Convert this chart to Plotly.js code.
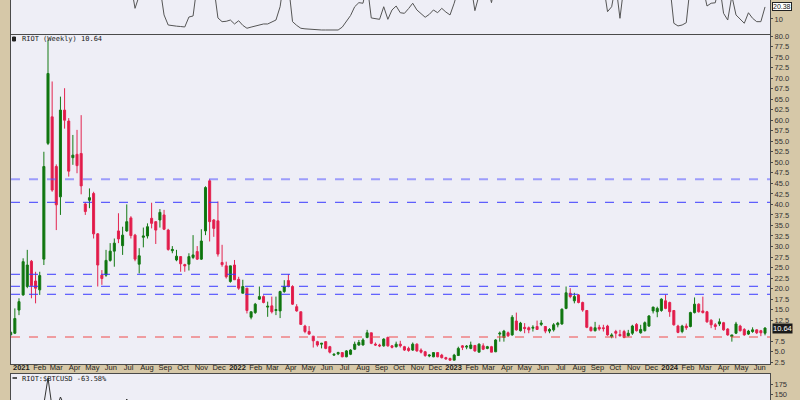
<!DOCTYPE html>
<html><head><meta charset="utf-8">
<script src="https://cdn.plot.ly/plotly-3.0.1.min.js"></script>
<style>html,body{margin:0;padding:0;background:#d6c8a8}#chart{width:800px;height:400px}</style>
</head><body><div id="chart"></div>
<script>
// ---- Weekly RIOT candles (week starting Monday), first week 2020-12-14 ----
const firstWeek = "2020-12-14";
const openP = [9.0,9.4,14.9,18.5,20.5,26.5,21.8,19.7,27.0,54.5,
 60.8,49.0,41.8,62.4,59.8,51.1,51.9,52.1,40.1,41.0,
 42.6,33.0,23.2,23.2,26.7,28.9,33.7,30.2,33.7,36.8,
 32.7,25.8,32.2,32.5,36.7,35.9,36.3,37.5,33.9,29.0,
 26.8,27.6,25.7,25.8,27.4,28.8,27.0,33.7,45.6,36.3,
 36.1,26.2,25.4,21.7,25.6,22.2,18.9,20.1,13.2,14.3,
 17.5,18.1,15.6,15.9,14.8,14.7,19.3,21.9,20.5,15.7,
 14.5,11.1,9.8,8.7,7.4,6.8,7.4,6.2,4.2,4.5,
 4.8,3.8,4.4,5.6,6.6,6.6,8.4,9.5,6.8,6.6,
 6.4,8.4,6.4,6.2,6.8,6.2,5.8,5.4,6.8,5.4,
 5.0,4.0,3.8,4.8,4.2,3.6,3.4,3.0,4.1,6.4,
 6.1,5.8,6.5,4.9,6.4,5.8,6.2,5.0,9.2,8.4,
 9.5,9.0,12.3,10.0,10.8,10.7,10.6,11.0,11.5,11.0,
 9.9,10.2,11.4,11.6,15.3,18.9,17.1,18.5,16.7,14.8,
 10.8,10.0,10.8,10.7,11.1,8.6,9.8,9.1,9.8,8.8,
 9.4,11.5,9.5,10.0,11.1,14.7,14.5,14.8,17.1,16.7,
 14.8,11.1,9.8,11.1,11.0,14.3,16.3,14.7,14.5,12.5,
 11.4,11.6,11.9,10.4,8.6,9.4,11.1,10.3,9.2,9.8,
 10.2,10.0,9.4];
const highP = [9.9,15.3,17.7,27.2,29.2,26.8,24.0,24.0,52.5,79.0,
 69.2,49.5,65.6,67.6,60.5,56.5,57.7,61.2,40.5,43.8,
 43.0,33.2,24.4,29.2,30.8,31.9,37.9,34.7,40.0,37.2,
 33.0,29.6,34.5,35.5,40.4,36.0,38.9,38.7,34.2,30.1,
 29.2,27.7,25.9,28.4,32.7,30.1,34.1,44.3,46.0,36.5,
 40.7,30.4,26.4,25.4,26.8,22.8,22.1,20.1,14.5,16.6,
 20.5,18.4,16.9,18.1,18.1,19.5,22.0,23.4,20.8,16.3,
 14.5,11.4,11.1,8.7,7.6,7.1,7.4,6.4,4.6,5.0,
 4.9,5.4,5.6,7.4,7.8,8.2,10.2,9.5,7.2,6.9,
 8.2,8.6,6.6,7.4,7.6,6.4,6.2,7.2,7.0,5.8,
 5.2,4.4,4.9,4.9,4.5,3.8,3.6,4.5,6.2,6.6,
 6.6,7.4,6.6,7.0,7.0,6.4,6.4,8.0,9.8,10.2,
 9.8,13.7,14.3,12.1,11.8,11.0,11.3,12.4,12.5,11.1,
 10.6,11.8,12.1,15.3,20.5,20.1,19.0,18.7,16.9,14.9,
 11.0,12.1,11.4,11.4,11.4,9.4,10.2,10.2,10.2,10.2,
 11.4,11.8,11.4,12.2,13.7,15.7,15.7,17.7,18.6,16.9,
 14.9,11.4,11.4,11.7,14.5,17.9,16.5,18.1,14.7,12.7,
 11.8,12.9,12.1,10.6,9.0,12.1,11.4,10.6,10.2,10.8,
 10.3,10.2,10.8];
const lowP = [8.9,9.2,13.7,18.3,20.1,17.7,16.5,18.5,25.6,54.1,
 43.0,33.9,37.5,58.0,46.6,49.4,47.4,42.4,37.5,39.1,
 31.9,20.5,20.9,22.8,26.4,25.2,30.8,28.0,33.5,31.9,
 26.5,23.6,29.8,31.9,34.3,30.6,34.5,33.9,29.0,28.4,
 26.5,24.0,24.0,24.3,27.0,26.8,26.8,32.7,31.2,32.3,
 27.6,25.2,22.4,21.4,22.1,19.7,18.9,14.1,12.7,14.0,
 17.3,16.5,13.3,14.1,13.7,13.0,19.0,20.3,16.1,14.5,
 11.4,9.4,9.0,6.0,6.2,5.8,5.6,4.6,4.0,4.2,
 3.7,3.7,4.2,5.4,6.4,6.5,8.2,6.8,6.4,6.1,
 6.2,6.2,5.8,6.0,6.0,5.2,5.0,5.2,5.0,4.6,
 3.8,3.7,3.7,3.7,3.4,3.1,2.9,3.0,4.1,5.4,
 5.6,5.6,5.0,4.9,5.4,5.6,4.9,4.9,7.4,7.4,
 8.5,8.8,10.0,9.8,9.4,9.4,9.8,10.2,11.1,9.4,
 9.4,9.8,10.8,11.4,15.1,17.7,16.5,16.5,14.5,10.6,
 9.8,9.8,10.0,9.8,8.8,8.2,8.2,8.6,8.2,8.6,
 9.0,9.8,9.3,9.8,10.9,14.1,13.2,14.5,15.1,13.3,
 11.2,9.4,9.4,10.2,10.8,14.1,14.3,14.1,11.9,10.6,
 10.2,11.1,10.0,8.8,7.4,9.2,9.8,8.8,9.0,9.5,
 9.2,8.7,8.9];
const closeP = [9.6,12.9,16.9,26.4,25.6,20.7,20.1,23.1,49.0,71.1,
 43.4,39.9,62.4,60.0,47.9,51.7,49.2,44.4,38.3,41.6,
 33.0,25.6,22.4,26.7,28.9,30.8,31.8,32.7,35.9,32.6,
 27.0,27.8,32.5,34.7,35.5,33.9,38.1,34.1,29.3,29.3,
 27.7,25.9,25.4,27.6,28.0,27.0,31.3,44.0,35.9,34.3,
 28.2,25.7,22.8,25.4,22.1,20.1,20.5,14.8,14.5,16.3,
 18.1,16.7,15.8,14.5,15.0,19.3,20.5,20.5,16.3,14.7,
 11.5,9.8,9.2,7.6,6.6,7.0,5.8,4.9,4.4,4.8,
 3.8,5.2,5.4,6.8,7.2,7.8,9.5,7.0,6.6,6.4,
 8.0,6.4,6.05,6.8,6.4,5.4,5.3,6.8,5.2,4.9,
 4.1,4.2,4.8,3.8,3.6,3.3,3.0,4.2,5.8,6.05,
 6.3,6.6,5.2,6.8,5.6,6.2,4.9,7.8,9.4,9.9,
 8.8,13.2,10.2,11.8,10.5,10.2,10.8,10.3,11.8,9.9,
 10.3,11.4,11.8,15.1,19.0,18.1,18.1,16.7,14.9,10.8,
 10.0,10.7,10.4,10.5,9.0,9.0,9.4,8.8,8.4,9.4,
 11.1,10.0,10.3,11.9,13.5,15.6,15.3,17.5,15.3,14.5,
 11.4,9.6,11.1,10.7,14.3,16.3,14.5,14.3,12.1,11.4,
 11.0,12.1,10.2,9.0,9.0,11.6,10.0,9.0,9.9,10.2,
 9.5,9.5,10.64];

// ---- Upper indicator panel (weekly values, same weeks) ----
const indicator = [55,62,58,66,70,64,60,68,72,75,
 70,66,62,68,64,58,60,62,55,52,
 48,44,42,46,50,48,52,55,45,40,
 19.2,42,48,52,46,44,38,13.5,4.8,4.0,
 3.8,3.5,3.1,11.7,12.6,40,46,50,44,38,
 10.9,7.7,8.0,9.1,5.7,8.5,4.5,2.0,3.0,4.0,
 5.0,5.7,5.7,7.5,9.1,20.6,45,40,7.7,4.5,
 2.0,1.5,1.1,0.8,0.6,0.5,0.5,0.5,0.5,0.5,
 3.0,7.5,13.0,20.6,24.1,23.6,40,10.9,10.6,9.7,
 20.6,9.7,17.8,21.2,15.4,14.9,19.0,23.6,17.8,14.5,
 11.5,14.0,17.8,15.4,19.2,16.0,13.5,23.6,42,48,
 45,40,17.2,38,44,40,24.1,42,50,55,
 58,52,48,55,60,57,52,49,46,50,
 55,60,64,62,58,54,50,47,45,42,
 40,43,46,40,16.3,20.6,40,10.6,40,46,
 50,54,52,48,45,50,52,47,44,40,
 6.3,4.0,4.8,6.8,40,46,44,38,21.2,23.6,
 24.0,40,14.9,9.1,30,13.5,10.0,6.3,15.4,10.6,
 7.7,7.7,20.4];
const indicatorLast = "20.38";

// ---- Lower panel: RIOT:$BTCUSD relative performance (%) ----
const ratioDates = ["2020-12-14","2020-12-21","2020-12-28","2021-01-04","2021-01-11","2021-01-18","2021-01-25","2021-02-01","2021-02-08","2021-02-15","2021-02-22","2021-03-01","2021-03-08","2021-03-15","2021-03-22","2021-04-05","2021-05-03","2021-06-07","2021-06-21","2021-06-28","2021-07-05","2021-08-02","2021-09-06","2021-11-08","2022-01-03","2022-04-04","2022-07-04","2022-10-03","2023-01-02","2023-04-03","2023-07-10","2023-10-02","2024-01-01","2024-03-04","2024-06-10"];
const ratioPct = [60,80,85,100,95,85,80,90,125,190,115,110,142.5,120,110,105,90,95,115,137.5,112,100,90,95,80,60,40,35,25,30,15,5,-20,-45,-63.58];

// ---- Horizontal reference levels ----
const blueLevels = [46.0, 40.5, 23.4, 20.55, 18.65];
const redLevels = [8.5];

// ---- Price axis tick values (10.0 is hidden behind the last-price box in the reference) ----
const priceTicks = [2.5,5,7.5,12.5,15,17.5,20,22.5,25,27.5,30,32.5,35,37.5,40,42.5,45,47.5,50,52.5,55,57.5,60,62.5,65,67.5,70,72.5,75,77.5,80];

// ---- X tick labels (month starts) ----
const monthTicks = ["2021-01-01","2021-02-01","2021-03-01","2021-04-01","2021-05-01","2021-06-01","2021-07-01","2021-08-01","2021-09-01","2021-10-01","2021-11-01","2021-12-01",
 "2022-01-01","2022-02-01","2022-03-01","2022-04-01","2022-05-01","2022-06-01","2022-07-01","2022-08-01","2022-09-01","2022-10-01","2022-11-01","2022-12-01",
 "2023-01-01","2023-02-01","2023-03-01","2023-04-01","2023-05-01","2023-06-01","2023-07-01","2023-08-01","2023-09-01","2023-10-01","2023-11-01","2023-12-01",
 "2024-01-01","2024-02-01","2024-03-01","2024-04-01","2024-05-01","2024-06-01"];
const monthLabels = ["<b>2021</b>","Feb","Mar","Apr","May","Jun","Jul","Aug","Sep","Oct","Nov","Dec",
 "<b>2022</b>","Feb","Mar","Apr","May","Jun","Jul","Aug","Sep","Oct","Nov","Dec",
 "<b>2023</b>","Feb","Mar","Apr","May","Jun","Jul","Aug","Sep","Oct","Nov","Dec",
 "<b>2024</b>","Feb","Mar","Apr","May","Jun"];

const mainLabel = "RIOT (Weekly) 10.64";
const ratioLabel = "RIOT:$BTCUSD -63.58%";
const lastPrice = 10.64;

// build weekly dates
const weeks = [];
{
  const d0 = new Date(firstWeek + "T00:00:00Z");
  for (let i = 0; i < closeP.length; i++) {
    const d = new Date(d0.getTime() + i * 7 * 86400000);
    weeks.push(d.toISOString().slice(0, 10));
  }
}

const FONT = "Liberation Sans, Arial, sans-serif";
const MONO = "DejaVu Sans Mono, Liberation Mono, monospace";
const lineCol = "#4a4a4a";

const traces = [
  {
    type: "candlestick", x: weeks, open: openP, high: highP, low: lowP, close: closeP,
    xaxis: "x", yaxis: "y",
    increasing: { line: { color: "#157a15", width: 1 }, fillcolor: "#0b720b" },
    decreasing: { line: { color: "#e3244f", width: 1 }, fillcolor: "#e0174a" },
    whiskerwidth: 0, hoverinfo: "skip", showlegend: false
  },
  {
    type: "scatter", mode: "lines", x: weeks, y: indicator, xaxis: "x2", yaxis: "y2",
    line: { color: "#555555", width: 1 }, hoverinfo: "skip", showlegend: false
  },
  {
    type: "scatter", mode: "lines", x: ratioDates, y: ratioPct, xaxis: "x3", yaxis: "y3",
    line: { color: "#333333", width: 1 }, hoverinfo: "skip", showlegend: false
  }
];

const shapes = [];
blueLevels.forEach((v, i) => shapes.push({
  type: "line", xref: "paper", x0: 0, x1: 1, yref: "y", y0: v, y1: v,
  line: { color: i === 0 ? "rgba(90,90,255,0.55)" : "#3a3aff", width: i === 0 ? 2 : 1, dash: "dash" }
}));
redLevels.forEach(v => shapes.push({
  type: "line", xref: "paper", x0: 0, x1: 1, yref: "y", y0: v, y1: v,
  line: { color: "#f04a4a", width: 1, dash: "dash" }
}));
// small legend icons
shapes.push({ type: "rect", xref: "paper", yref: "paper", x0: 1.5/759, x1: 4.5/759, y0: 1-41/400, y1: 1-37/400,
  line: { color: "#222", width: 1 }, fillcolor: "#222" });
shapes.push({ type: "line", xref: "paper", yref: "paper", x0: 1.5/759, x1: 6/759, y0: 1-378/400, y1: 1-378/400,
  line: { color: "#222", width: 1.5 } });

const axisCommon = { showgrid: false, zeroline: false, showline: true, mirror: true, linecolor: lineCol, linewidth: 1 };

const layout = {
  width: 800, height: 400,
  margin: { l: 11, r: 30, t: 0, b: 0, pad: 0 },
  paper_bgcolor: "#d6c8a8", plot_bgcolor: "#eeeef6",
  showlegend: false,
  xaxis: Object.assign({}, axisCommon, {
    type: "date", anchor: "y", domain: [0, 1],
    range: ["2020-12-14 12:00", "2024-06-18 10:00"],
    rangeslider: { visible: false },
    tickvals: monthTicks, ticktext: monthLabels, ticks: "", ticklabelstandoff: -4,
    tickfont: { family: FONT, size: 7.5, color: "#222" }, fixedrange: true
  }),
  xaxis2: Object.assign({}, axisCommon, { type: "date", anchor: "y2", matches: "x", showticklabels: false, ticks: "" }),
  xaxis3: Object.assign({}, axisCommon, { type: "date", anchor: "y3", matches: "x", showticklabels: false, ticks: "" }),
  yaxis: Object.assign({}, axisCommon, {
    domain: [0.09, 0.9125], range: [2.09, 80.24], side: "right",
    tickvals: priceTicks, tickformat: ".1f",
    ticks: "outside", ticklen: 2, tickcolor: lineCol,
    tickfont: { family: FONT, size: 7.5, color: "#333" }
  }),
  yaxis2: Object.assign({}, axisCommon, {
    domain: [0.915, 1], range: [-2.96, 26.4], side: "right",
    tickvals: [10], ticks: "outside", ticklen: 2, tickcolor: lineCol,
    tickfont: { family: FONT, size: 7.5, color: "#333" }
  }),
  yaxis3: Object.assign({}, axisCommon, {
    domain: [0, 0.065], range: [135, 200], side: "right",
    tickvals: [150, 175], ticksuffix: "%", ticks: "outside", ticklen: 2, tickcolor: lineCol,
    tickfont: { family: FONT, size: 7.5, color: "#333" }
  }),
  shapes: shapes,
  annotations: [
    { text: mainLabel, xref: "paper", yref: "paper", x: 9/759, y: 1-39/400, xanchor: "left", yanchor: "middle",
      showarrow: false, font: { family: MONO, size: 7, color: "#222" } },
    { text: ratioLabel, xref: "paper", yref: "paper", x: 9/759, y: 1-379/400, xanchor: "left", yanchor: "middle",
      showarrow: false, font: { family: MONO, size: 7, color: "#222" } },
    { text: lastPrice.toFixed(2), xref: "paper", yref: "y", x: 761/759, y: lastPrice, xanchor: "left", yanchor: "middle",
      showarrow: false, bgcolor: "#1a1a1a", borderpad: 0, font: { family: FONT, size: 7.5, color: "#ffffff" } },
    { text: indicatorLast, xref: "paper", yref: "y2", x: 761/759, y: parseFloat(indicatorLast), xanchor: "left", yanchor: "middle",
      showarrow: false, bgcolor: "#ffffff", bordercolor: "#222", borderwidth: 1, borderpad: 0, font: { family: FONT, size: 7, color: "#111" } }
  ]
};

Plotly.newPlot("chart", traces, layout, { staticPlot: true, displayModeBar: false });
</script>
</body></html>
